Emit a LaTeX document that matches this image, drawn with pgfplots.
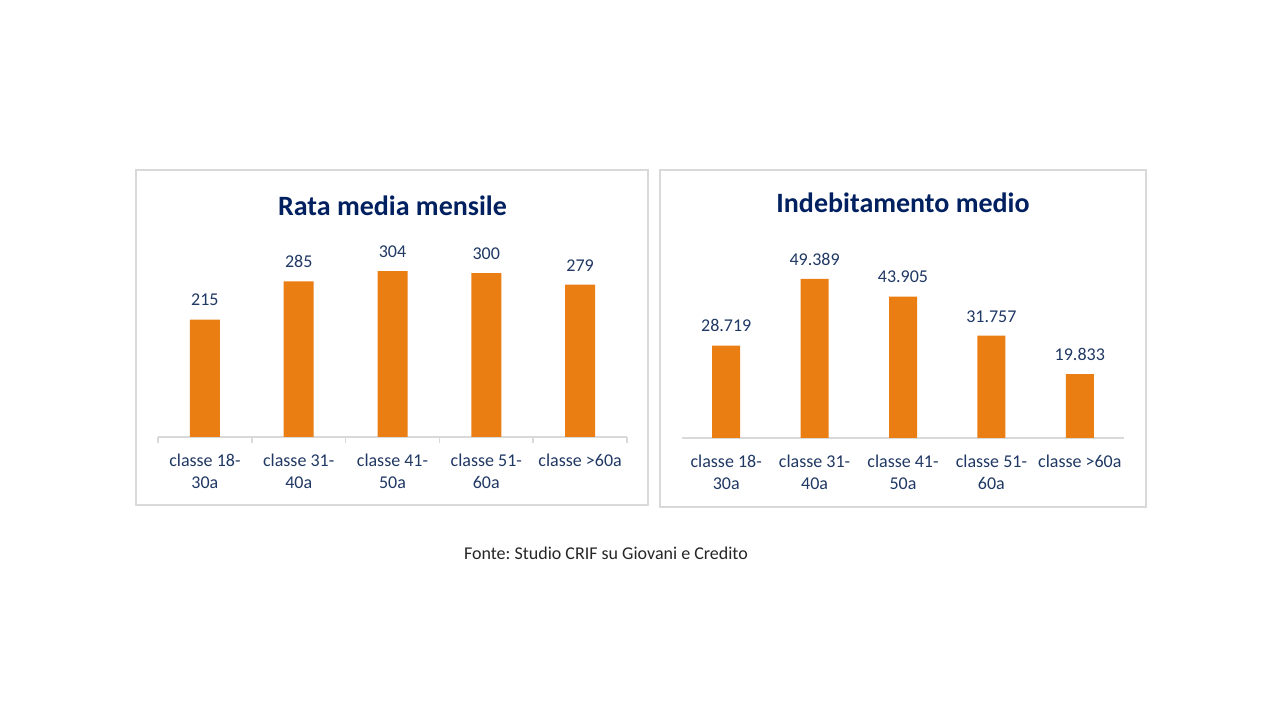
\documentclass[border=0pt]{standalone}
\usepackage{fontspec}
\setmainfont{Carlito}
\usepackage{pgfplots}
\pgfplotsset{compat=1.18}
\definecolor{barorange}{HTML}{EA7E13}
\definecolor{labnavy}{HTML}{203864}
\definecolor{titlenavy}{HTML}{002060}
\definecolor{framegray}{HTML}{D9D9D9}
\definecolor{srcgray}{HTML}{262626}
\frenchspacing
\begin{document}
\begin{tikzpicture}
\path[fill=white] (0bp,0bp) rectangle (1280bp,720bp);
\draw[framegray, line width=1.5bp] (136bp,215bp) rectangle (648bp,550bp);
\draw[framegray, line width=1.5bp] (660bp,213bp) rectangle (1146bp,550bp);
\pgfplotsset{
  mybars/.style={
    scale only axis,
    ybar, ymin=0,
    xmin=-0.5, xmax=4.5,
    axis y line=none,
    axis x line*=bottom,
    x axis line style={-, draw=framegray, line width=1.5bp},
    xtick={0,1,2,3,4},
    major tick length=0pt,
    xticklabels={{classe 18-\\30a},{classe 31-\\40a},{classe 41-\\50a},{classe 51-\\60a},{classe >60a}},
    xticklabel style={font=\fontsize{18bp}{22bp}\selectfont, align=center, text=labnavy, anchor=north, yshift=-13bp},
    point meta=explicit symbolic,
    nodes near coords,
    nodes near coords style={font=\fontsize{18bp}{22bp}\selectfont, text=labnavy, anchor=south, yshift=10bp},
    title style={font=\fontsize{28bp}{32bp}\selectfont\bfseries, text=titlenavy, anchor=center},
    clip=false,
  }
}
\begin{axis}[mybars,
  at={(158bp,283bp)}, anchor=south west,
  width=469bp, height=191.1bp, ymax=350,
  bar width=30bp,
  title={Rata media mensile},
  title style={at={(axis description cs:0.5,1.177)}},
  extra x ticks={-0.5,0.5,1.5,2.5,3.5,4.5},
  extra x tick labels={},
  extra tick style={major tick length=6bp, tick align=outside, tick style={draw=framegray, line width=1.5bp}},
]
\addplot[fill=barorange, draw=none] coordinates {(0,215)[215] (1,285)[285] (2,304)[304] (3,300)[300] (4,279)[279]};
\end{axis}
\begin{axis}[mybars,
  at={(682bp,282bp)}, anchor=south west,
  width=442bp, height=193.2bp, ymax=60,
  bar width=28bp,
  title={Indebitamento medio},
  title style={at={(axis description cs:0.5,1.185)}},
]
\addplot[fill=barorange, draw=none] coordinates {(0,28.719)[28.719] (1,49.389)[49.389] (2,43.905)[43.905] (3,31.757)[31.757] (4,19.833)[19.833]};
\end{axis}
\node[font=\fontsize{18bp}{22bp}\selectfont, text=srcgray] at (606bp,167bp) {Fonte: Studio CRIF su Giovani e Credito};
\end{tikzpicture}
\end{document}
